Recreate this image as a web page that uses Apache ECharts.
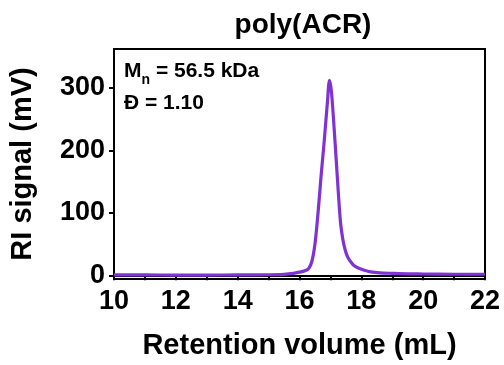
<!DOCTYPE html>
<html>
<head>
<meta charset="utf-8">
<script src="https://cdn.jsdelivr.net/npm/echarts@6/dist/echarts.min.js"></script>
<style>
  html, body { margin: 0; padding: 0; background: #ffffff; }
  #chart { width: 504px; height: 365px; }
</style>
</head>
<body>
<div id="chart"></div>
<script>
// GPC trace of poly(ACR): retention volume (mL) vs RI detector signal (mV)
const retentionVolume = [10, 11, 12, 13, 14, 15, 15.5, 15.8, 16.0, 16.2, 16.3, 16.4, 16.5, 16.6, 16.7, 16.8, 16.9, 16.97, 17.03, 17.1, 17.2, 17.32, 17.4, 17.48, 17.56, 17.65, 17.75, 17.9, 18.1, 18.3, 18.6, 19.0, 19.5, 20, 21, 22];
const riSignal        = [0.5, 0.5, 0.3, 0.3, 0.5, 0.8, 1.5, 3, 5, 7.5, 11, 22, 50, 100, 160, 215, 275, 312, 295, 250, 175, 88, 58, 40, 29, 22, 16, 11.5, 8, 5.5, 3.8, 3, 2.2, 2, 1.6, 1.6];
const xTickLabels = [10, 12, 14, 16, 18, 20, 22];
const yTickLabels = [0, 100, 200, 300];

const chartTitle = 'poly(ACR)';
const xName = 'Retention volume (mL)';
const yName = 'RI signal (mV)';

const FONT = '"Liberation Sans", Arial, sans-serif';
const chart = echarts.init(document.getElementById('chart'), null, { renderer: 'canvas' });

chart.setOption({
  backgroundColor: '#ffffff',
  animation: false,
  title: {
    text: chartTitle,
    left: 298,
    textAlign: 'center',
    top: 6,
    textStyle: { fontFamily: FONT, fontWeight: 'bold', fontSize: 28, color: '#000' }
  },
  grid: {
    left: 113, right: 19, top: 49, bottom: 86,
    show: true, borderColor: '#000', borderWidth: 2, backgroundColor: 'transparent'
  },
  xAxis: {
    type: 'value', min: 10, max: 22, interval: 1,
    name: xName, nameLocation: 'middle', nameGap: 52,
    nameTextStyle: { fontFamily: FONT, fontWeight: 'bold', fontSize: 29, color: '#000' },
    axisLine: { lineStyle: { color: '#000', width: 2 } },
    axisTick: { show: true, length: 5, lineStyle: { color: '#000', width: 2 } },
    axisLabel: {
      customValues: xTickLabels, margin: 9,
      fontFamily: FONT, fontWeight: 'bold', fontSize: 27, color: '#000'
    },
    splitLine: { show: false }
  },
  yAxis: {
    type: 'value', min: -6, max: 362,
    name: yName, nameLocation: 'middle', nameGap: 77, nameRotate: 90,
    nameTextStyle: { fontFamily: FONT, fontWeight: 'bold', fontSize: 29, color: '#000' },
    axisLine: { show: true, lineStyle: { color: '#000', width: 2 } },
    axisTick: { show: true, customValues: yTickLabels, length: 5, lineStyle: { color: '#000', width: 2 } },
    axisLabel: {
      customValues: yTickLabels, margin: 9,
      fontFamily: FONT, fontWeight: 'bold', fontSize: 27, color: '#000'
    },
    splitLine: { show: false }
  },
  graphic: [{
    type: 'text',
    left: 124, top: 61,
    style: {
      text: '{b|M}{s|n}{b| = 56.5 kDa}\n{b|Đ = 1.10}',
      rich: {
        b: { fontFamily: FONT, fontWeight: 'bold', fontSize: 21, color: '#000', lineHeight: 32 },
        s: { fontFamily: FONT, fontWeight: 'bold', fontSize: 14, color: '#000', verticalAlign: 'bottom', padding: [10, 0, 0, 0], lineHeight: 32 }
      }
    }
  }],
  series: [{
    type: 'line',
    data: retentionVolume.map((v, i) => [v, riSignal[i]]),
    showSymbol: false,
    smooth: 0.3,
    lineStyle: { color: '#7f33d6', width: 3.2 },
    clip: true
  }]
});
</script>
</body>
</html>
